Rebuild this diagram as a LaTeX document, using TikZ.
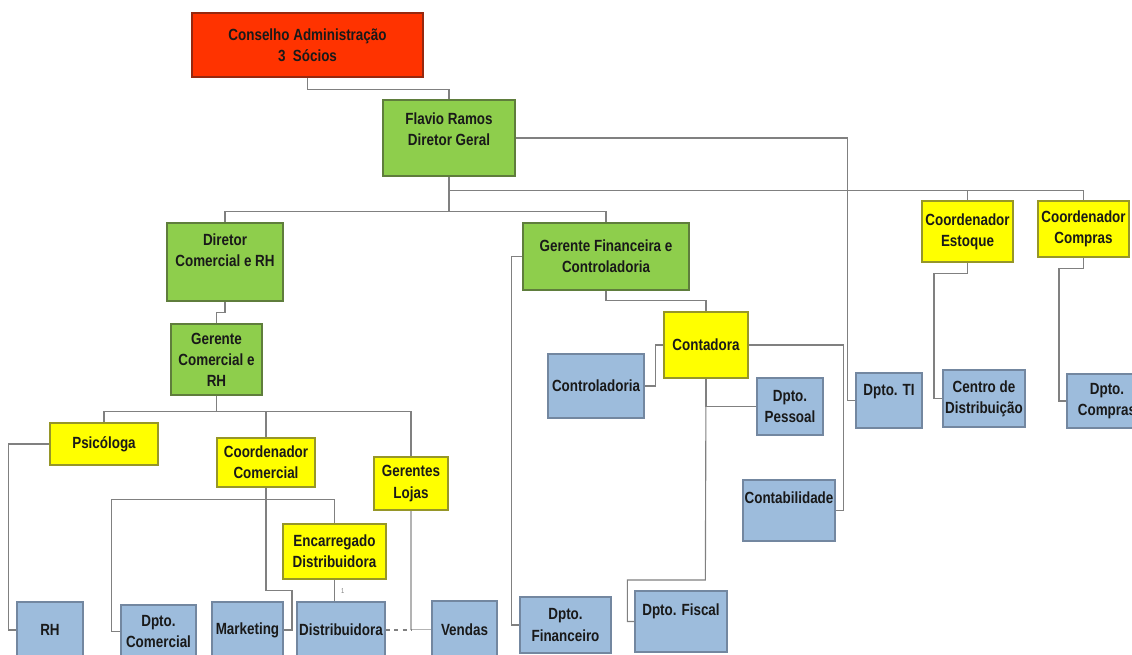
\documentclass[tikz,border=0pt]{standalone}
\usepackage{fontspec}
\setmainfont{Liberation Sans}[FakeStretch=0.83]
\usetikzlibrary{positioning}
\definecolor{ogRed}{RGB}{255,51,0}
\definecolor{ogRedDark}{RGB}{150,40,15}
\definecolor{ogGreen}{RGB}{142,206,76}
\definecolor{ogGreenDark}{RGB}{95,125,60}
\definecolor{ogYellow}{RGB}{255,255,0}
\definecolor{ogYellowDark}{RGB}{150,150,40}
\definecolor{ogBlue}{RGB}{157,188,220}
\definecolor{ogBlueDark}{RGB}{115,135,160}
\definecolor{ogLine}{RGB}{128,128,128}

\begin{document}
\begin{tikzpicture}[
  x=0.025cm, y=-0.025cm,
  font=\fontsize{11.5}{15}\selectfont\bfseries,
  box/.style={draw, line width=1.2pt, inner sep=1pt, align=center, text=black!90},
  wh/.style 2 args={minimum width=#1*0.025cm, minimum height=#2*0.025cm},
  redbox/.style={box, fill=ogRed, draw=ogRedDark},
  greenbox/.style={box, fill=ogGreen, draw=ogGreenDark},
  yellowbox/.style={box, fill=ogYellow, draw=ogYellowDark},
  bluebox/.style={box, fill=ogBlue, draw=ogBlueDark, line width=0.9pt},
  raiseText/.style 2 args={text height=#1, text depth=#2},
  conn/.style={draw=ogLine, line width=0.8pt},
]
\useasboundingbox (0,0) rectangle (1132,655);
\clip (0,0) rectangle (1132,655);
% board and director
\node[redbox, wh={231}{64}] (cons) at (307.5,45) {Conselho Administração\\3~~Sócios};
\node[greenbox, wh={132}{76}, raiseText={10.4pt}{0pt}] (dg) at (449,138) {Flavio Ramos\\Diretor Geral};
% commercial branch
\node[greenbox, wh={116}{78}, raiseText={6.2pt}{0pt}] (dcrh) at (225,262) {Diretor\\Comercial e RH};
\node[greenbox, wh={91}{71}] (gcrh) at (216.5,359.5) {Gerente\\Comercial e\\RH};
\node[yellowbox, wh={108}{42}] (psi) at (104,444) {Psicóloga};
\node[yellowbox, wh={98}{49}] (ccom) at (266,462.5) {Coordenador\\Comercial};
\node[yellowbox, wh={74}{53}] (glojas) at (411,483.5) {Gerentes\\Lojas};
\node[yellowbox, wh={103}{55}] (encdist) at (334.5,551.5) {Encarregado\\Distribuidora};
\node[bluebox, wh={66}{56}] (rh) at (50,630) {RH};
\node[bluebox, wh={75}{53}] (dcom) at (158.5,631.5) {Dpto.\\Comercial};
\node[bluebox, wh={71}{56}] (mkt) at (247.5,630) {Marketing};
\node[bluebox, wh={88}{56}] (dist) at (341,630) {Distribuidora};
\node[bluebox, wh={65}{57}] (vendas) at (464.5,629.5) {Vendas};
% finance branch
\node[greenbox, wh={166}{67}] (gfin) at (606,256.5) {Gerente Financeira e\\Controladoria};
\node[yellowbox, wh={84}{66}] (cont) at (706,345) {Contadora};
\node[bluebox, wh={96}{64}] (ctrl) at (596,386) {Controladoria};
\node[bluebox, wh={66}{57}] (dpes) at (790,406.5) {Dpto.\\Pessoal};
\node[bluebox, wh={92}{61}, raiseText={8pt}{17.6pt}] (ctb) at (789,510.5) {Contabilidade};
\node[bluebox, wh={91}{56}] (dfin) at (565.5,625) {Dpto.\\Financeiro};
\node[bluebox, wh={92}{61}, raiseText={8pt}{16.8pt}] (dfis) at (681,621.5) {Dpto. Fiscal};
% right side
\node[bluebox, wh={66}{55}, raiseText={8pt}{14.8pt}] (dti) at (889,400.5) {Dpto. TI};
\node[yellowbox, wh={91}{61}] (cest) at (967.5,231.5) {Coordenador\\Estoque};
\node[yellowbox, wh={91}{56}] (ccomp) at (1083.5,229) {Coordenador\\Compras};
\node[bluebox, wh={82}{57}] (cdist) at (984,398.5) {Centro de\\Distribuição};
\node[bluebox, wh={80}{54}] (dcomp) at (1107,401) {Dpto.\\Compras};

% connectors
\draw[conn] (cons.south) -- ++(0,12) -| (dg.north);
\draw[conn] (dg.south) -- ++(0,35) coordinate (busA);
\draw[conn] (busA) -| (dcrh.north);
\draw[conn] (busA) -| (gfin.north);
\path (dg.south) ++(0,14) coordinate (busB);
\draw[conn] (busB) -| (cest.north);
\draw[conn] (busB) -| (ccomp.north);
\draw[conn] (dg.east) -- ++(332,0) |- (dti.west);
\draw[conn] (dcrh.south) -- ++(0,11) -| (gcrh.north);
\draw[conn] (gcrh.south) -- ++(0,16) coordinate (busC);
\draw[conn] (busC) -| (psi.north);
\draw[conn] (busC) -| (ccom.north);
\draw[conn] (busC) -| (glojas.north);
\draw[conn] (psi.west) -- ++(-41,0) |- (rh.west);
\draw[conn] (ccom.south) -- ++(0,12) coordinate (busD);
\draw[conn] (dcom.west) -- ++(-9,0) |- (busD);
\draw[conn] (busD) -| (encdist.north);
\draw[conn] (ccom.south) |- ++(26,103) |- (mkt.east);
\draw[conn] (encdist.south) -- (encdist.south |- dist.north)
  node[midway, right=1pt, font=\tiny\mdseries, text=ogLine] (one) {1};
\draw[conn, draw=ogLine!60] (glojas.south) |- (vendas.west);
\draw[conn, dashed] (dist.east) -- (glojas.south |- dist.east);
\draw[conn] (gfin.west) -- ++(-11,0) |- (dfin.west);
\draw[conn] (gfin.south) -- ++(0,10) -| (cont.north);
\draw[conn] (cont.west) -- ++(-8,0) |- (ctrl.east);
\draw[conn] (cont.east) -- ++(95,0) |- (ctb.east);
\draw[conn] (cont.south) |- (dpes.west);
\draw[conn] (dfis.west) -- ++(-7,0) |- ++(78,-41.5) -- (cont.south);
\draw[conn] (cest.south) |- ++(-33.5,11) |- (cdist.west);
\draw[conn] (ccomp.south) |- ++(-24.5,11) |- (dcomp.west);
\end{tikzpicture}
\end{document}
